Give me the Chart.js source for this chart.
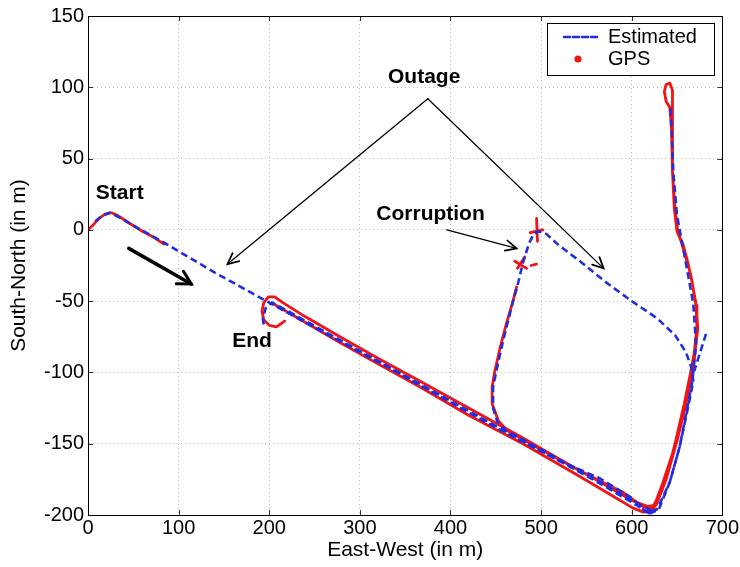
<!DOCTYPE html>
<html>
<head>
<meta charset="utf-8">
<script src="https://cdn.jsdelivr.net/npm/chart.js@4/dist/chart.umd.min.js"></script>
<style>
html,body{margin:0;padding:0;background:#fff;}
canvas{display:block;}
</style>
</head>
<body>
<canvas id="c" width="740" height="567"></canvas>
<script>
// ---------- tick labels ----------
const xTickValues = [0, 100, 200, 300, 400, 500, 600, 700];
const yTickValues = [-200, -150, -100, -50, 0, 50, 100, 150];

// ---------- Estimated trajectory (x = East-West, y = South-North, metres) ----------
const estOutbound = [[8,6],[16,10],[24,12],[34,9],[50,3],[84,-9],[140,-30],[197,-50],[260,-72],[330,-96],[400,-121],[454,-140],[520,-162],[564,-174],[600,-188],[616,-198],[628,-196],[642,-177],[653,-152],[667,-106],[671,-80],[668,-52],[658,-17],[650,10],[646,40],[644,70],[643,88]];
const estBranchOutage = [[622,-197],[600,-190],[560,-175],[500,-154],[462,-141],[452,-135],[447,-125],[447,-110],[452,-95],[458,-78],[469,-50],[474,-39],[480,-23],[487,-9],[492,-3],[497,-1],[506,-3],[520,-11],[545,-23],[570,-36],[600,-50],[628,-62],[648,-74],[660,-86],[666,-97],[668,-106],[662,-125],[653,-152],[642,-177],[630,-196],[620,-199]];
const estSnap = [[682,-73],[676,-85],[669,-99]];
const estReturn = [[620,-199],[605,-193],[560,-176],[500,-155],[454,-139],[400,-120],[366,-108],[300,-85],[260,-71],[215,-55],[203,-51],[196,-55],[193,-62],[194,-67]];

// ---------- GPS fixes ----------
const gpsStart = [[0,0],[5,3],[12,8],[19,11],[26,12],[33,10],[45,5],[60,-1],[72,-5],[84,-10]];
const gpsOutbound = [[205,-52],[240,-65],[278,-79],[320,-94],[366,-110],[420,-130],[480,-150],[540,-172],[580,-187],[601,-195],[613,-198],[621,-197],[627,-190],[634,-178],[645,-157],[655,-132],[664,-106],[669,-90],[673,-69],[671,-52],[665,-31],[660,-20],[654,-7],[650,-1],[647,15],[645,41],[645,71],[645,90],[645,98],[642,103],[638,102],[636,97],[638,90],[642,86],[644,70],[645,40],[648,14],[651,-2],[657,-11],[662,-23],[667,-38],[671,-53],[672,-68],[669,-86],[665,-100],[658,-122],[646,-155],[633,-183],[624,-196],[612,-194],[590,-184],[540,-168],[500,-154],[463,-141],[453,-134],[446,-122],[446,-110],[449,-99],[455,-82],[462,-65],[469,-50],[473,-40]];
const gpsReturn = [[670,-85],[667,-100],[660,-122],[650,-148],[638,-175],[627,-193],[618,-194],[601,-190],[560,-175],[540,-168],[480,-146],[420,-125],[366,-106],[320,-90],[278,-75],[240,-61],[215,-51],[206,-47],[199,-47],[194,-51],[192,-57],[194,-63],[200,-67],[208,-68],[217,-64]];
const gpsSpike = [[495,8],[496,-8]];
const gpsSpikeBar = [[488,-2],[502,0]];
const gpsCrossA = [[471,-22],[484,-27]];
const gpsCrossB = [[474,-27],[482,-19]];
const gpsCrossC = [[489,-25],[495,-24]];

// ---------- annotations (placed in data coordinates) ----------
const noteTexts = [
  {text: 'Start', x: 35, y: 26},
  {text: 'End', x: 181, y: -78},
  {text: 'Outage', x: 371, y: 107},
  {text: 'Corruption', x: 378, y: 11}
];
const noteArrows = [
  {from: [375, 92], to: [154, -24], thick: false},
  {from: [375, 92], to: [569, -27], thick: false},
  {from: [396, 0], to: [473, -13], thick: false},
  {from: [45, -13], to: [114, -38], thick: true}
];

const BLUE = '#1f2ee0';
const RED = '#f01414';
const FONT = '"Liberation Sans", Arial, Helvetica, sans-serif';

const toXY = arr => arr.map(([x, y]) => ({x, y}));
const estSet = path => ({
  label: 'Estimated', legendKind: 'line', data: toXY(path), showLine: true,
  borderColor: BLUE, backgroundColor: BLUE, borderWidth: 2.6, borderDash: [7, 4],
  pointRadius: 0, pointHoverRadius: 0, fill: false, tension: 0
});
const gpsSet = path => ({
  label: 'GPS', legendKind: 'dot', data: toXY(path), showLine: true,
  borderColor: RED, backgroundColor: RED, borderWidth: 2.8,
  pointRadius: 0, pointHoverRadius: 0, fill: false, tension: 0,
  borderCapStyle: 'round', borderJoinStyle: 'round'
});

const datasets = [
  estSet(estOutbound), estSet(estBranchOutage), estSet(estSnap), estSet(estReturn),
  gpsSet(gpsStart), gpsSet(gpsOutbound), gpsSet(gpsReturn),
  gpsSet(gpsSpike), gpsSet(gpsSpikeBar), gpsSet(gpsCrossA), gpsSet(gpsCrossB), gpsSet(gpsCrossC)
];

const framePlugin = {
  id: 'frame',
  beforeDraw(chart) {
    const ctx = chart.ctx;
    ctx.save(); ctx.fillStyle = '#fff'; ctx.fillRect(0, 0, chart.width, chart.height); ctx.restore();
  },
  afterDatasetsDraw(chart) {
    const {ctx, chartArea: a, scales} = chart;
    ctx.save();
    // inward tick marks
    ctx.strokeStyle = '#333'; ctx.lineWidth = 1;
    const tl = 5;
    xTickValues.forEach(v => {
      const px = Math.round(scales.x.getPixelForValue(v)) + 0.5;
      ctx.beginPath();
      ctx.moveTo(px, a.bottom); ctx.lineTo(px, a.bottom - tl);
      ctx.moveTo(px, a.top); ctx.lineTo(px, a.top + tl);
      ctx.stroke();
    });
    yTickValues.forEach(v => {
      const py = Math.round(scales.y.getPixelForValue(v)) + 0.5;
      ctx.beginPath();
      ctx.moveTo(a.left, py); ctx.lineTo(a.left + tl, py);
      ctx.moveTo(a.right, py); ctx.lineTo(a.right - tl, py);
      ctx.stroke();
    });
    // box
    ctx.strokeStyle = '#000'; ctx.lineWidth = 1;
    ctx.strokeRect(Math.round(a.left) + 0.5, Math.round(a.top) + 0.5, Math.round(a.right - a.left), Math.round(a.bottom - a.top));

    // annotations
    const X = v => scales.x.getPixelForValue(v);
    const Y = v => scales.y.getPixelForValue(v);
    ctx.fillStyle = '#000';
    ctx.font = 'bold 21px ' + FONT;
    ctx.textAlign = 'center'; ctx.textBaseline = 'middle';
    noteTexts.forEach(n => ctx.fillText(n.text, X(n.x), Y(n.y)));
    noteArrows.forEach(ar => {
      const x1 = X(ar.from[0]), y1 = Y(ar.from[1]), x2 = X(ar.to[0]), y2 = Y(ar.to[1]);
      const ang = Math.atan2(y2 - y1, x2 - x1);
      const hl = ar.thick ? 15 : 12, spread = ar.thick ? 0.5 : 0.45;
      ctx.strokeStyle = '#000';
      ctx.lineWidth = ar.thick ? 3.5 : 1.3;
      ctx.lineCap = 'round';
      ctx.beginPath(); ctx.moveTo(x1, y1); ctx.lineTo(x2, y2); ctx.stroke();
      ctx.lineWidth = ar.thick ? 3 : 1.8;
      ctx.beginPath();
      ctx.moveTo(x2 - hl * Math.cos(ang - spread), y2 - hl * Math.sin(ang - spread));
      ctx.lineTo(x2, y2);
      ctx.lineTo(x2 - hl * Math.cos(ang + spread), y2 - hl * Math.sin(ang + spread));
      ctx.stroke();
    });

    // legend box
    const seen = new Map();
    chart.data.datasets.forEach(d => { if (!seen.has(d.label)) seen.set(d.label, d); });
    const w = 167, h = 52;
    const bx = Math.round(a.right) - 8 - w, by = Math.round(a.top) + 7;
    ctx.fillStyle = '#fff'; ctx.fillRect(bx, by, w, h);
    ctx.strokeStyle = '#000'; ctx.lineWidth = 1; ctx.setLineDash([]);
    ctx.strokeRect(bx + 0.5, by + 0.5, w, h);
    ctx.font = '20px ' + FONT; ctx.textAlign = 'left'; ctx.textBaseline = 'middle';
    let i = 0;
    seen.forEach((d, label) => {
      const cy = by + 14 + i * 22;
      if (d.legendKind === 'line') {
        ctx.save();
        ctx.strokeStyle = d.borderColor; ctx.lineWidth = 2.6; ctx.setLineDash([6, 3]);
        ctx.beginPath(); ctx.moveTo(bx + 17, cy); ctx.lineTo(bx + 50, cy); ctx.stroke();
        ctx.restore();
      } else {
        ctx.fillStyle = d.borderColor;
        ctx.beginPath(); ctx.arc(bx + 31, cy, 3.6, 0, Math.PI * 2); ctx.fill();
      }
      ctx.fillStyle = '#000';
      ctx.fillText(label, bx + 61, cy);
      i++;
    });
    ctx.restore();
  }
};

new Chart(document.getElementById('c'), {
  type: 'scatter',
  data: {datasets},
  options: {
    responsive: false,
    devicePixelRatio: 1,
    animation: false,
    events: [],
    layout: {padding: {left: 0, right: 17, top: 15, bottom: 0}},
    plugins: {legend: {display: false}, tooltip: {enabled: false}, title: {display: false}},
    scales: {
      x: {
        type: 'linear', min: 0, max: 700,
        afterBuildTicks: s => { s.ticks = xTickValues.map(v => ({value: v})); },
        afterFit: s => { s.height = 52; },
        ticks: {font: {family: FONT, size: 20}, color: '#000', padding: 1, maxRotation: 0, autoSkip: false},
        grid: {color: '#bcbcbc', lineWidth: 1, drawTicks: false},
        border: {display: true, color: '#000', width: 1, dash: [1, 3]},
        title: {display: true, text: 'East-West (in m)', color: '#000', font: {family: FONT, size: 21}, padding: {top: 0, bottom: 4}}
      },
      y: {
        type: 'linear', min: -200, max: 150,
        afterBuildTicks: s => { s.ticks = yTickValues.map(v => ({value: v})); },
        afterFit: s => { s.width = 88; },
        ticks: {font: {family: FONT, size: 20}, color: '#000', padding: 4, autoSkip: false},
        grid: {color: '#bcbcbc', lineWidth: 1, drawTicks: false},
        border: {display: true, color: '#000', width: 1, dash: [1, 3]},
        title: {display: true, text: 'South-North (in m)', color: '#000', font: {family: FONT, size: 21}, padding: {top: 7, bottom: 0}}
      }
    }
  },
  plugins: [framePlugin]
});
</script>
</body>
</html>
